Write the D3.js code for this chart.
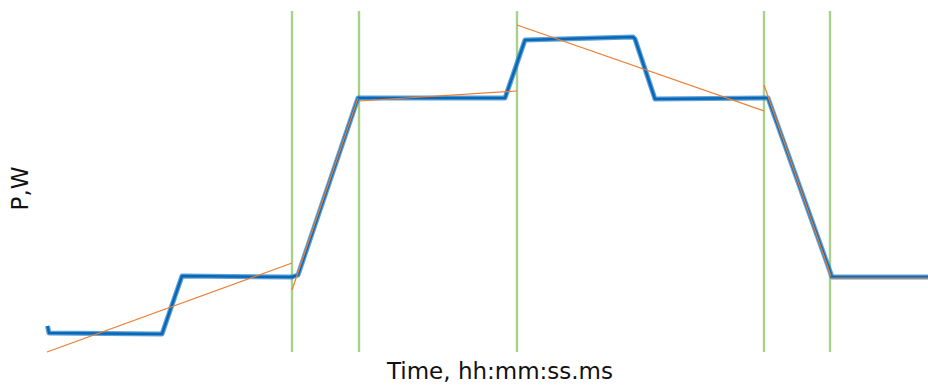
<!DOCTYPE html>
<html>
<head>
<meta charset="utf-8">
<script src="https://cdn.jsdelivr.net/npm/d3@7"></script>
<style>
  html, body { margin: 0; padding: 0; background: #fff; }
  svg { display: block; }
</style>
</head>
<body>
<svg id="chart" width="928" height="385"></svg>
<script>
// ---- Data (time in s, power in W) ----
const signalTime  = [0.05, 0.2, 11.5, 13.5, 24.5, 25.1, 31.1, 45.8, 47.8, 58.6, 58.8, 60.8, 72.1, 78.5, 88.1];
const signalPower = [26,   19,  18,   76,   75,   77,   254,  254,  312,  315,  313,  253,  254,  75,   75];

const fitStartTime  = [0,    24.5, 31.2, 47.0, 71.7, 78.4];
const fitStartPower = [0,    62,   251,  327,  267,  74];
const fitEndTime    = [24.5, 31.1, 47.0, 71.7, 78.4, 88.1];
const fitEndPower   = [89,   254,  261,  241,  76,   74];

const markerTimes = [24.5, 31.2, 47.0, 71.7, 78.3];

const xLabel = "Time, hh:mm:ss.ms";
const yLabel = "P,W";

// ---- Layout ----
const svg = d3.select("#chart");
const margin = { left: 47, right: 0, top: 11, bottom: 33 };
const W = 928, H = 385;

const x = d3.scaleLinear().domain([0, 88.1]).range([margin.left, W - margin.right]);
const y = d3.scaleLinear().domain([0, 341]).range([H - margin.bottom, margin.top]);

// green vertical markers
svg.append("g").selectAll("line").data(markerTimes).join("line")
  .attr("x1", d => x(d)).attr("x2", d => x(d))
  .attr("y1", y(341)).attr("y2", y(0))
  .attr("stroke", "#a9d18e").attr("stroke-width", 2.4);

// blue signal
const signal = signalTime.map((t, i) => [t, signalPower[i]]);
const line = d3.line().x(d => x(d[0])).y(d => y(d[1]));
svg.append("path").datum(signal)
  .attr("d", line)
  .attr("fill", "none")
  .attr("stroke", "#2a80c8")
  .attr("stroke-width", 5)
  .attr("stroke-linejoin", "round")
  .attr("opacity", 0.75);
svg.append("path").datum(signal)
  .attr("d", line)
  .attr("fill", "none")
  .attr("stroke", "#0868b8")
  .attr("stroke-width", 2.5)
  .attr("stroke-linejoin", "round");

// orange fit segments
const fits = fitStartTime.map((t, i) => ({ t0: t, p0: fitStartPower[i], t1: fitEndTime[i], p1: fitEndPower[i] }));
svg.append("g").selectAll("line").data(fits).join("line")
  .attr("x1", d => x(d.t0)).attr("y1", d => y(d.p0))
  .attr("x2", d => x(d.t1)).attr("y2", d => y(d.p1))
  .attr("stroke", "#ed7d31").attr("stroke-width", 1.2);

// axis labels
svg.append("text")
  .attr("x", 500).attr("y", 379)
  .attr("text-anchor", "middle")
  .attr("font-family", "DejaVu Sans, Verdana, sans-serif")
  .attr("font-size", 23)
  .attr("fill", "#111")
  .text(xLabel);

svg.append("text")
  .attr("transform", "translate(28,188.5) rotate(-90)")
  .attr("text-anchor", "middle")
  .attr("font-family", "DejaVu Sans, Verdana, sans-serif")
  .attr("font-size", 23)
  .attr("fill", "#111")
  .text(yLabel);
</script>
</body>
</html>
